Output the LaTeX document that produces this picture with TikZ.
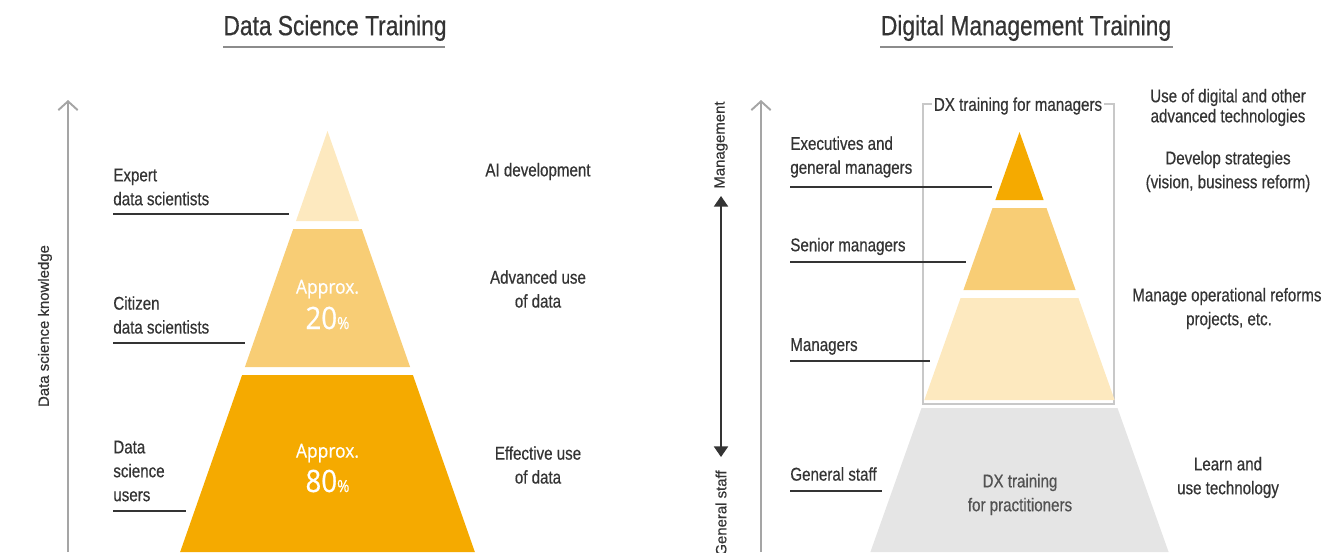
\documentclass[tikz,border=0pt]{standalone}
\usepackage{fontspec}
\setmainfont{Liberation Sans}[FakeStretch=0.82,FakeBold=0.5]
\newfontfamily\rotfont{Liberation Sans}[FakeBold=0.6]
\newfontfamily\pctfont{Open Sans}[FakeStretch=0.9,FakeBold=0.6]
\usetikzlibrary{arrows.meta,positioning}
\definecolor{deeporange}{RGB}{245,170,0}
\definecolor{midorange}{RGB}{248,205,117}
\definecolor{paleorange}{RGB}{253,233,191}
\definecolor{staffgray}{RGB}{229,229,229}
\definecolor{textgray}{RGB}{52,52,52}
\definecolor{axisgray}{RGB}{165,165,165}
\definecolor{boxgray}{RGB}{200,200,200}

% one band of a pyramid: centre x, apex y, top y, bottom y, fill
\newcommand{\band}[5]{%
  \fill[#5] ({#1-\pslope*(#3-#2)},#3) -- ({#1+\pslope*(#3-#2)},#3)
    -- ({#1+\pslope*(#4-#2)},#4) -- ({#1-\pslope*(#4-#2)},#4) -- cycle;}

\begin{document}
\begin{tikzpicture}[x=0.02cm, y=-0.02cm,
  title/.style={font=\fontsize{15.8}{18}\selectfont, text=textgray, inner sep=0pt},
  lbl/.style={font=\fontsize{10.5}{13.6}\selectfont, text=textgray, align=left, anchor=west, inner sep=0pt},
  note/.style={font=\fontsize{10.5}{13.6}\selectfont, text=textgray, align=center, inner sep=0pt},
  apx/.style={font=\pctfont\fontsize{11}{13}\selectfont, text=white, inner sep=0pt},
  num/.style={font=\pctfont\fontsize{17.5}{19}\selectfont, text=white, inner sep=0pt},
  side/.style={font=\rotfont\fontsize{8.5}{10}\selectfont, text=textgray, rotate=90, inner sep=0pt},
  uline/.style={draw=textgray, line width=0.6pt},
  tline/.style={draw=gray!90, line width=1.1pt},
  axis/.style={draw=axisgray, line width=1.1pt, -{Straight Barb[length=5pt,width=11pt]}},
]
  \useasboundingbox (0,0) rectangle (1321,552);

  % ---------- Data Science Training ----------
  \node[title] (dstitle) at (335,28) {Data Science Training};
  \coordinate (dsul) at (223,47);
  \coordinate (dsur) at (445,47);
  \draw[tline] (dsul) -- (dsur);

  % knowledge axis
  \coordinate (dsbot) at (68,552);
  \coordinate (dstop) at (68,100);
  \draw[axis] (dsbot) -- (dstop);
  \node[side] (dsaxis) at (45,326) {Data science knowledge};

  % pyramid
  \def\pslope{0.35}
  \band{327.5}{131}{131}{221}{paleorange}
  \band{327.5}{131}{229}{367}{midorange}
  \band{327.5}{131}{375}{552}{deeporange}

  \node[apx] (apx20) at (327.5,289) {Approx.};
  \node[num] (num20) at (327.5,318) {20{\fontsize{9.5}{11}\selectfont\%}};
  \node[apx] (apx80) at (327.5,453) {Approx.};
  \node[num] (num80) at (327.5,481) {80{\fontsize{9.5}{11}\selectfont\%}};

  % left labels
  \node[lbl] (expert) at (113,187) {Expert\\data scientists};
  \node[lbl] (citizen) at (113,315) {Citizen\\data scientists};
  \node[lbl] (users) at (113,471) {Data\\science\\users};
  \coordinate (expertend) at (289,214);
  \coordinate (citizenend) at (245,343);
  \coordinate (usersend) at (186,511);
  \draw[uline] (expertend -| expert.west) -- (expertend);
  \draw[uline] (citizenend -| citizen.west) -- (citizenend);
  \draw[uline] (usersend -| users.west) -- (usersend);

  % right notes
  \node[note] (aidev) at (538,171.5) {AI development};
  \node[note] (advuse) at (538,289) {Advanced use\\of data};
  \node[note] (effuse) at (538,465) {Effective use\\of data};

  % ---------- Digital Management Training ----------
  \node[title] (dmtitle) at (1026,28) {Digital Management Training};
  \coordinate (dmul) at (880,47);
  \coordinate (dmur) at (1173,47);
  \draw[tline] (dmul) -- (dmur);

  \coordinate (dmbot) at (761,552);
  \coordinate (dmtop) at (761,100);
  \draw[axis] (dmbot) -- (dmtop);

  % management / general staff
  \coordinate (mgtip) at (721,196);
  \coordinate (gstip) at (721,457);
  \draw[textgray, line width=0.9pt, {Triangle[length=6pt,width=8pt]}-{Triangle[length=6pt,width=8pt]}] (mgtip) -- (gstip);
  \node[side] (mgside) at (721,145) {Management};
  \node[side] (gsside) at (721,513) {General staff};

  % manager box
  \draw[boxgray, line width=1.2pt] (923,104) rectangle (1114,404);
  \node[note, fill=white, inner xsep=1pt] (mgbox) at (1018,106) {DX training for managers};

  % pyramid
  \def\pslope{0.355}
  \band{1019.5}{132}{132}{200}{deeporange}
  \band{1019.5}{132}{208}{290}{midorange}
  \band{1019.5}{132}{298}{400}{paleorange}
  \band{1019.5}{132}{408}{552}{staffgray}
  \node[note, text=textgray!85] (practice) at (1020,494.5) {DX training\\for practitioners};

  % left labels
  \node[lbl] (execs) at (790,157) {Executives and\\general managers};
  \node[lbl] (senior) at (790,246.5) {Senior managers};
  \node[lbl] (mgrs) at (790,346.5) {Managers};
  \node[lbl] (staff) at (790,474) {General staff};
  \coordinate (execsend) at (992,187);
  \coordinate (seniorend) at (966,262);
  \coordinate (mgrsend) at (930,361);
  \coordinate (staffend) at (882,491);
  \draw[uline] (execsend -| execs.west) -- (execsend);
  \draw[uline] (seniorend -| senior.west) -- (seniorend);
  \draw[uline] (mgrsend -| mgrs.west) -- (mgrsend);
  \draw[uline] (staffend -| staff.west) -- (staffend);

  % right notes
  \node[note, font=\fontsize{10.5}{11.4}\selectfont] (usetech) at (1228,107.5) {Use of digital and other\\advanced technologies};
  \node[note] (strategy) at (1228,171.5) {Develop strategies\\(vision, business reform)};
  \node[note] (reforms) at (1229,308.5) {Manage operational reforms,\\projects, etc.};
  \node[note] (learn) at (1228,477.5) {Learn and\\use technology};
\end{tikzpicture}
\end{document}
